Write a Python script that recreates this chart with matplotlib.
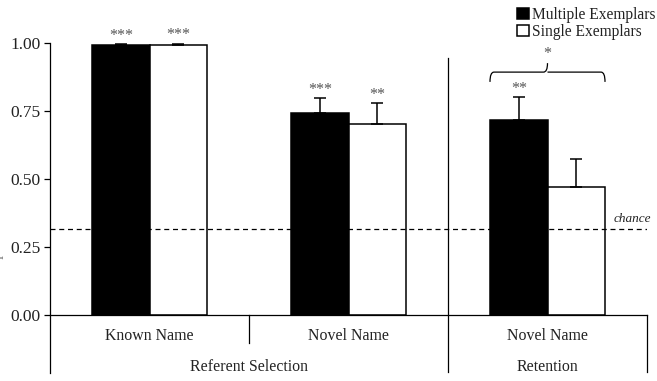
import numpy as np
import matplotlib
matplotlib.use("Agg")
import matplotlib.pyplot as plt
from matplotlib.path import Path
from matplotlib.patches import PathPatch

plt.rcParams["font.family"] = ["Liberation Serif", "DejaVu Serif"]

# 数据
groups = ["Known Name", "Novel Name", "Novel Name"]
multiple = [0.991, 0.741, 0.717]
multiple_err = [0.006, 0.056, 0.083]
single = [0.994, 0.702, 0.470]
single_err = [0.004, 0.078, 0.104]
multiple_stars = ["***", "***", "**"]
single_stars = ["***", "**", ""]
chance = 0.315
yticks = [0.00, 0.25, 0.50, 0.75, 1.00]

fig = plt.figure(figsize=(6.57, 3.81), dpi=100)
ax = fig.add_axes([50 / 657, 1 - 315 / 381, 597 / 657, 272 / 381])

x = np.arange(len(groups))
w = 0.289
tc = "#222222"

b1 = ax.bar(x - w / 2, multiple, w, color="black", edgecolor="black", linewidth=1.1,
            yerr=[np.zeros(3), multiple_err], capsize=4,
            error_kw=dict(ecolor="black", elinewidth=1.1, capthick=1.1))
b2 = ax.bar(x + w / 2, single, w, color="white", edgecolor="black", linewidth=1.1,
            yerr=[np.zeros(3), single_err], capsize=4,
            error_kw=dict(ecolor="black", elinewidth=1.1, capthick=1.1))

# 星号
for i in range(3):
    if multiple_stars[i]:
        ax.text(x[i] - w / 2, multiple[i] + multiple_err[i] + 0.001, multiple_stars[i],
                ha="center", va="bottom", fontsize=11.5, color="#555555")
    if single_stars[i]:
        ax.text(x[i] + w / 2, single[i] + single_err[i] + 0.001, single_stars[i],
                ha="center", va="bottom", fontsize=11.5, color="#555555")

# 机会水平线
ax.axhline(chance, color="black", linestyle=(0, (4, 3)), linewidth=0.9)
ax.text(2.52, chance + 0.015, "chance", ha="right", va="bottom", fontsize=9.5,
        style="italic", color=tc)

ax.set_xlim(-0.5, 2.5)
ax.set_ylim(0, 1.0)
for s in ax.spines.values():
    s.set_visible(False)
ax.set_xticks([])
ax.set_yticks(yticks)
ax.set_yticklabels(["%.2f" % t for t in yticks], fontsize=12.5, color=tc)
ax.tick_params(axis="y", direction="out", length=4, width=0.9, color="black", pad=3)

# 坐标轴和分隔线
lk = dict(color="black", linewidth=0.9, clip_on=False)
ax.plot([-0.5, -0.5], [1.0, -0.213], **lk)
ax.plot([-0.5, 2.5], [0, 0], **lk)
ax.plot([0.5, 0.5], [0, -0.103], **lk)
ax.plot([1.5, 1.5], [0.945, -0.21], **lk)
ax.plot([2.5, 2.5], [0, -0.21], **lk)

# 类别标签
for i, g in enumerate(groups):
    ax.text(x[i], -0.077, g, ha="center", va="center", fontsize=11.4, color=tc,
            transform=ax.get_xaxis_transform())
ax.text(0.5, -0.19, "Referent Selection", ha="center", va="center", fontsize=11.4,
        color=tc, transform=ax.get_xaxis_transform())
ax.text(2.0, -0.19, "Retention", ha="center", va="center", fontsize=11.4,
        color=tc, transform=ax.get_xaxis_transform())

# 括号
x0, x1 = 2 - w, 2 + w
yb, yt, yc = 0.857, 0.893, 0.926
r = 0.02
verts = [(x0, yb), (x0, yt), (x0 + r, yt), (2 - r, yt), (2, yt), (2, yc),
         (2, yt), (2 + r, yt), (x1 - r, yt), (x1, yt), (x1, yb)]
codes = [Path.MOVETO, Path.CURVE3, Path.CURVE3, Path.LINETO, Path.CURVE3, Path.CURVE3,
         Path.MOVETO, Path.CURVE3, Path.LINETO, Path.CURVE3, Path.CURVE3]
ax.add_patch(PathPatch(Path(verts, codes), facecolor="none", edgecolor="black",
                       linewidth=0.9, clip_on=False))
ax.text(2, 0.93, "*", ha="center", va="bottom", fontsize=11.5, color="#555555")

# 图例
fig.legend([b1, b2], ["Multiple Exemplars", "Single Exemplars"],
           loc="upper left", bbox_to_anchor=(506 / 657, 1.01), frameon=False,
           fontsize=11.2, handlelength=0.75, handleheight=0.75, handletextpad=0.25,
           labelspacing=0.05, borderpad=0.2, labelcolor=tc)

# 纵轴标题（原图被裁切）
fig.text(4 / 657, 1 - 188 / 381, "Proportion of Correct Choices", rotation=90,
         ha="right", va="center", fontsize=11, color="#777777")

fig.savefig("out.png", dpi=100)
